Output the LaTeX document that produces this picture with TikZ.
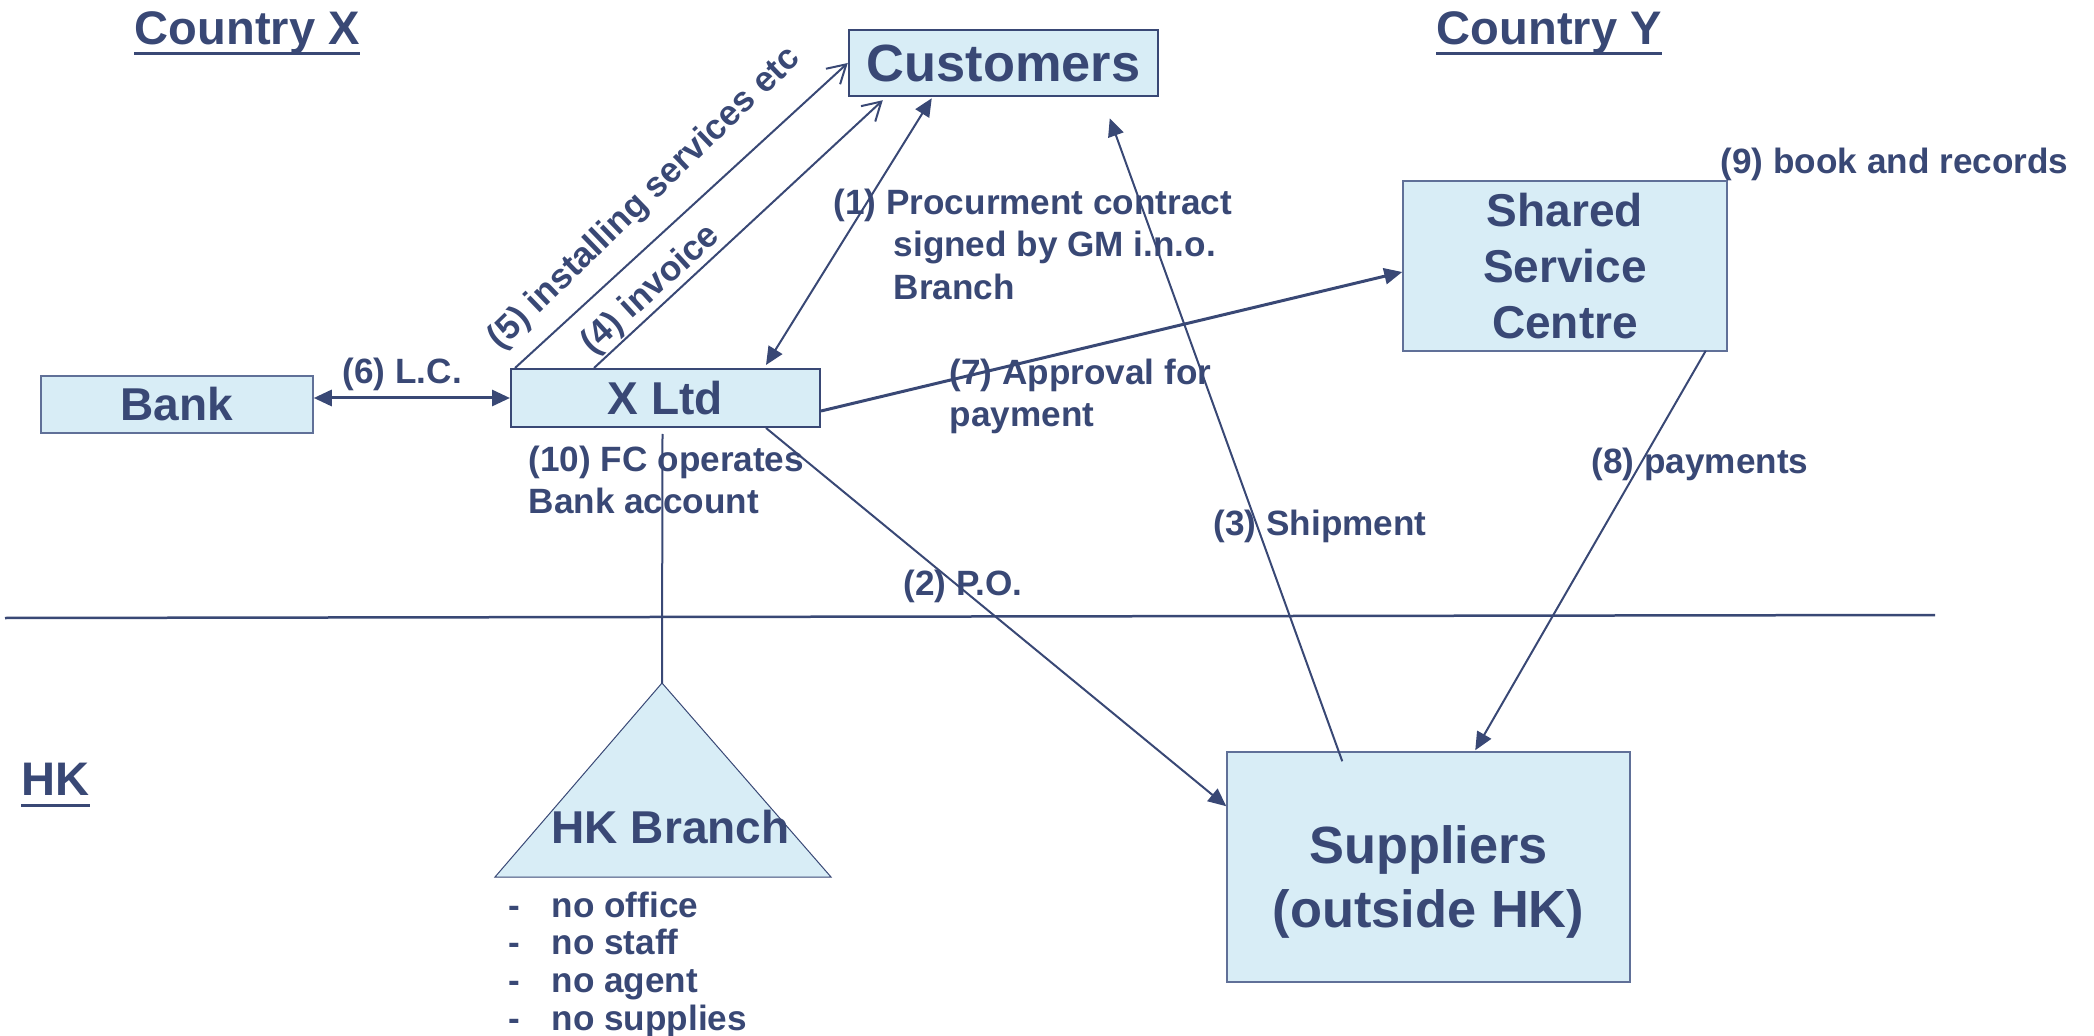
\documentclass[tikz,border=0pt]{standalone}
\usepackage{fontspec}
\setmainfont{Liberation Sans}
\usetikzlibrary{arrows.meta,calc}
\definecolor{navy}{RGB}{57,72,117}
\definecolor{paleblue}{RGB}{216,237,246}
\definecolor{edgeblue}{RGB}{96,112,152}

\begin{document}
\begin{tikzpicture}[x=0.1mm,y=-0.1mm,
  box/.style={draw=edgeblue, fill=paleblue, line width=0.15mm, inner sep=0,
    text=navy, align=center, font=\bfseries\fontsize{13.1}{15.9}\selectfont},
  bigtext/.style={font=\bfseries\fontsize{14.9}{18.2}\selectfont},
  lab/.style={inner sep=0, anchor=base west, text=navy,
    font=\bfseries\fontsize{10}{12}\selectfont},
  rlab/.style={inner sep=0, text=navy, font=\bfseries\fontsize{10}{12}\selectfont},
  region/.style={inner sep=0, anchor=base west, text=navy,
    font=\bfseries\fontsize{13.4}{16}\selectfont},
  conn/.style={draw=navy, line width=0.2mm},
  thick conn/.style={draw=navy, line width=0.3mm},
  fill tip/.style={-{Triangle[length=1.8mm,width=1.6mm]}},
  both tips/.style={{Triangle[length=1.8mm,width=1.6mm]}-{Triangle[length=1.8mm,width=1.6mm]}},
  open tip/.style={-{Straight Barb[length=1.8mm,width=2.1mm]}},
  uline/.style={draw=navy, line width=0.3mm}
]
\useasboundingbox (0,0) rectangle (2094,1036);

% region headings
\node[region] (cx) at (134,45) {Country X};
\node[region] (cy) at (1436,45) {Country Y};
\node[region] (hk) at (21,795) {HK};
\draw[uline] ($(cx.base west)+(0,9)$) -- ($(cx.base east)+(0,9)$);
\draw[uline] ($(cy.base west)+(0,9)$) -- ($(cy.base east)+(0,9)$);
\draw[uline] ($(hk.base west)+(0,10)$) -- ($(hk.base east)+(0,10)$);

% border between the jurisdictions
\coordinate (bl) at (5,618);
\coordinate (br) at (1935,615);
\draw[draw=navy, line width=0.25mm] (bl) -- (br);

% entities
\node[box, bigtext, draw=navy, line width=0.25mm, minimum width=30.9mm, minimum height=6.6mm]
  (customers) at (1003.5,63) {Customers};
\node[box, minimum width=27.2mm, minimum height=5.7mm] (bank) at (177,404.5) {Bank};
\node[box, draw=navy, line width=0.2mm, minimum width=30.9mm, minimum height=5.8mm]
  (xltd) at (665.5,398) {X Ltd};
\node[box, minimum width=32.4mm, minimum height=17mm] (ssc) at (1565,266) {Shared\\Service\\Centre};
\node[box, minimum width=40.3mm, minimum height=23mm] (suppliers) at (1428.5,867) {};
\node[rlab, bigtext, align=center, font=\bfseries\fontsize{14.9}{18.2}\selectfont]
  (supptext) at (1428.5,881.5) {Suppliers\\(outside HK)};

% HK branch triangle
\coordinate (apex) at (662,683);
\coordinate (tl) at (495,877);
\coordinate (tr) at (831,877);
\draw[draw=navy, line width=0.1mm, fill=paleblue] (apex) -- (tr) -- (tl) -- cycle;
\node[region, font=\bfseries\fontsize{13.1}{15.9}\selectfont] (hkb) at (551,843) {HK Branch};
\draw[conn] ($(xltd.south)+(-3,6)$) -- (apex);

% connectors
\draw[thick conn, both tips] (bank.east |- xltd.west) -- (xltd.west);
\draw[conn, open tip] ($(xltd.north west)+(5,0)$) -- (customers.west);
\draw[conn, open tip] ($(xltd.north west)+(84,0)$) -- ($(customers.south west)+(35,3)$);
\draw[conn, both tips] ($(xltd.north west)+(256,-3)$) -- ($(customers.south west)+(84,1)$);
\draw[conn, fill tip] ($(suppliers.north west)+(116,10)$) -- ($(customers.south west)+(262,21)$);
\draw[thick conn, fill tip] ($(xltd.east)+(0,13)$) -- ($(ssc.west)+(0,6)$);
\draw[conn, fill tip] ($(ssc.south east)+(-22,-1)$) -- ($(suppliers.north west)+(249,-1)$);
\draw[conn, fill tip] ($(xltd.south west)+(256,0)$) -- ($(suppliers.north west)+(0,55)$);

% connector labels
\node[rlab, rotate=44] (l5) at (645,199) {(5) installing services etc};
\node[rlab, rotate=42.5] (l4) at (651,290) {(4) invoice};
\node[lab] (l6) at (342,384) {(6) L.C.};
\node[lab] (l1a) at (833,215) {(1) Procurment contract};
\node[lab] (l1b) at (893,257) {signed by GM i.n.o.};
\node[lab] (l1c) at (893,300) {Branch};
\node[lab] (l7a) at (949,385) {(7) Approval for};
\node[lab] (l7b) at (949,426) {payment};
\node[lab] (l10a) at (528,472) {(10) FC operates};
\node[lab] (l10b) at (528,513) {Bank account};
\node[lab] (l2) at (903,595) {(2) P.O.};
\node[lab] (l3) at (1213,535) {(3) Shipment};
\node[lab] (l8) at (1591,473) {(8) payments};
\node[lab] (l9) at (1720,174) {(9) book and records};

% what the branch lacks
\node[lab] (n1) at (508,917) {\makebox[4.3mm][l]{-}no office};
\node[lab] (n2) at (508,954) {\makebox[4.3mm][l]{-}no staff};
\node[lab] (n3) at (508,992) {\makebox[4.3mm][l]{-}no agent};
\node[lab] (n4) at (508,1030) {\makebox[4.3mm][l]{-}no supplies};
\end{tikzpicture}
\end{document}
